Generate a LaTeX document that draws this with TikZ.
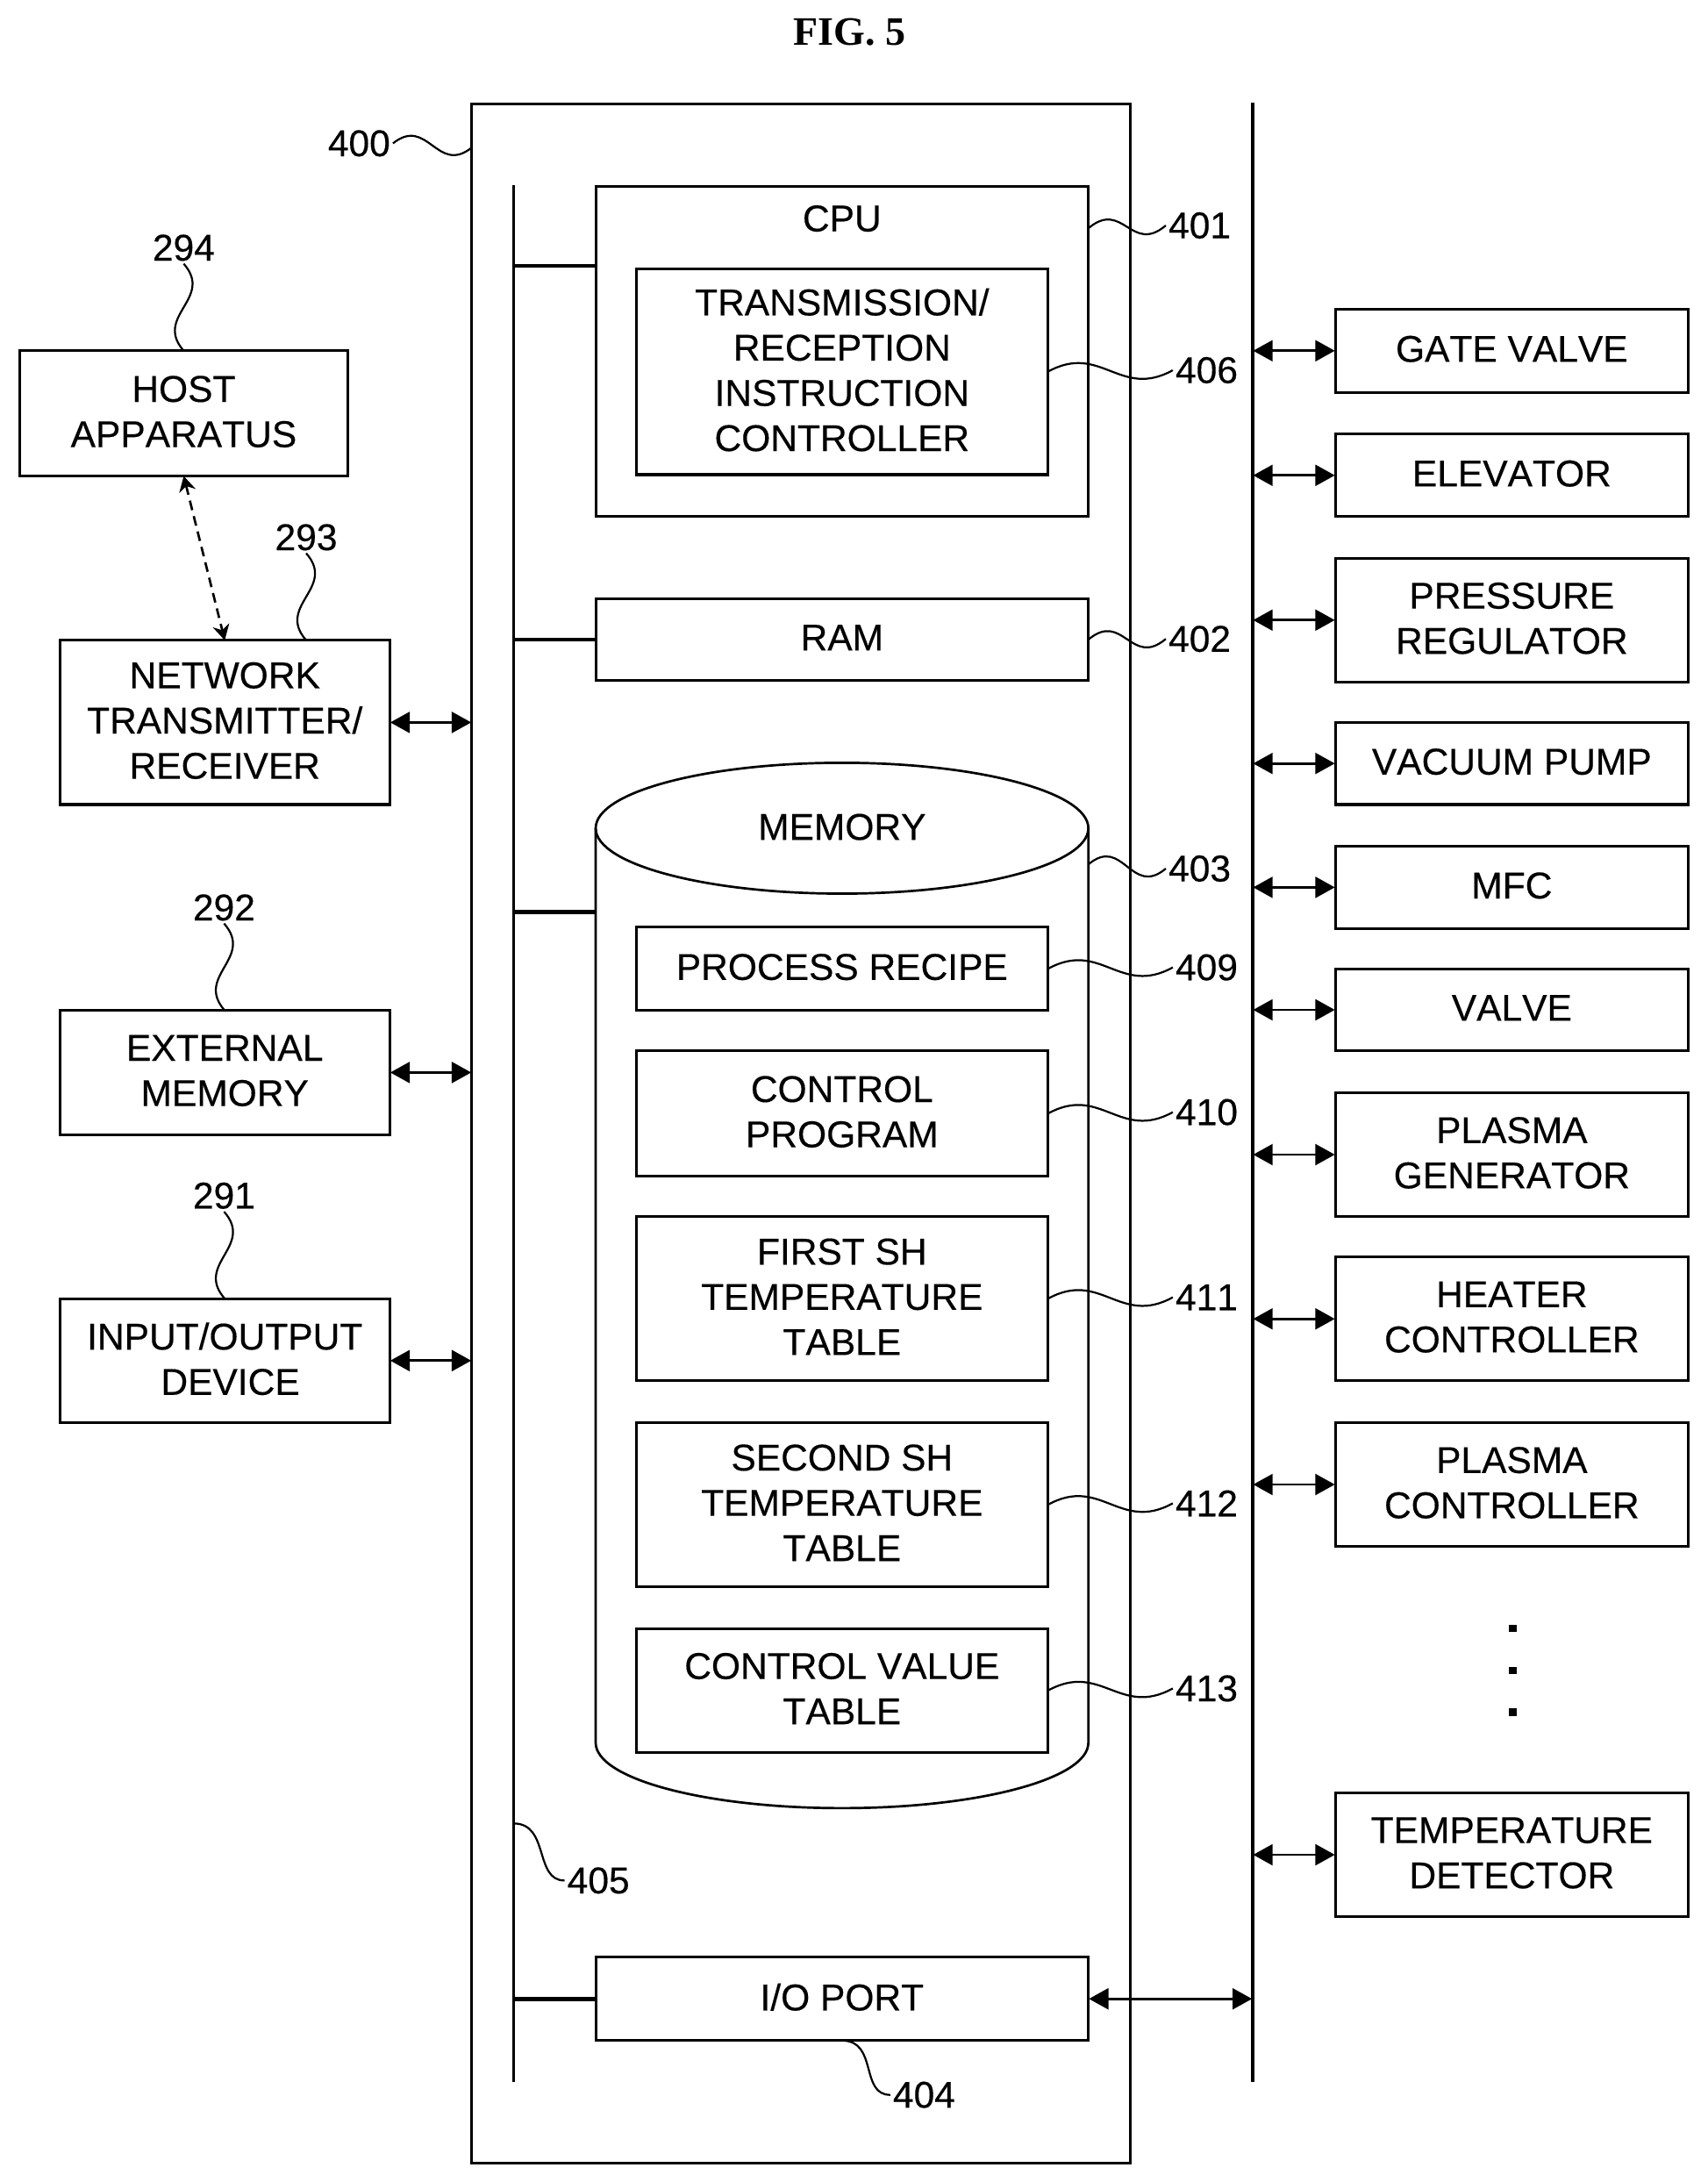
\documentclass[tikz,border=0pt]{standalone}
\usepackage{fontspec}
\setmainfont[FakeBold=0.35,Kerning=Off]{Liberation Sans}
\newfontfamily\titlefont{Liberation Serif}
\usetikzlibrary{arrows.meta,calc,shapes.geometric}
\tikzset{
  boxn/.style={draw=black,line width=0.95pt,inner sep=0pt,outer sep=0pt,align=center,font=\txtf,text depth=1.4pt},
  txtn/.style={inner sep=0pt,outer sep=0pt,align=center,font=\txtf},
  numn/.style={inner sep=1pt,outer sep=0pt,font=\txtf},
  dbl/.style={{Triangle[length=7pt,width=7.5pt]}-{Triangle[length=7pt,width=7.5pt]},line width=0.9pt,shorten <=0.2pt,shorten >=0.2pt},
  dashdbl/.style={{Stealth[length=5.5pt,width=6pt]}-{Stealth[length=5.5pt,width=6pt]},line width=0.85pt,dash pattern=on 3.5pt off 2.2pt},
  lead/.style={line width=0.7pt},
  stub/.style={line width=1.5pt},
  lbus/.style={line width=1.05pt},
  rbus/.style={line width=1.45pt},
  dotn/.style={fill=black,draw=none,minimum size=2.6pt,inner sep=0pt,outer sep=0pt},
}
\newcommand{\txtf}{\fontsize{13.4}{16.25}\selectfont}
% name, x1, y1, x2, y2, text
\newcommand{\mybox}[6]{\node[boxn,minimum width={(#4-#2)*0.5pt},minimum height={(#5-#3)*0.5pt}] (#1) at ({(#2+#4)/2},{(#3+#5)/2}) {#6};}
\begin{document}
\begin{tikzpicture}[x=0.5pt,y=-0.5pt]
\useasboundingbox (0,0) rectangle (1226.6,1567.6);
\node[inner sep=0pt,font=\titlefont\bfseries\fontsize{14.5}{16}\selectfont] (title) at (610.5,23) {FIG. 5};
% main frame and buses
\mybox{outer}{339}{75}{812}{1554}{}
\coordinate (lbt) at (369,133);
\coordinate (lbb) at (369,1496);
\coordinate (rbt) at (900,74);
\coordinate (rbb) at (900,1496);
\draw[lbus] (lbt) -- (lbb);
\draw[rbus] (rbt) -- (rbb);
% CPU
\mybox{cpu}{428}{134}{782}{371}{}
\node[txtn] (cputxt) at (605,157) {CPU};
\mybox{tr}{457}{193}{753}{341}{TRANSMISSION/\\RECEPTION\\INSTRUCTION\\CONTROLLER}
\mybox{ram}{428}{430}{782}{489}{RAM}
% memory cylinder
\node[draw=black,line width=0.85pt,ellipse,minimum width=177pt,minimum height=47pt,inner sep=0pt,outer sep=0pt,font=\txtf,text depth=1pt] (mem) at (605,595) {MEMORY};
\coordinate (mbl) at (428,1252);
\coordinate (mbr) at (782,1252);
\draw[line width=0.85pt] (mem.west) -- (mbl) .. controls (428,1278) and (507,1299) .. (605,1299) .. controls (703,1299) and (782,1278) .. (mbr) -- (mem.east);
\mybox{recipe}{457}{666}{753}{726}{PROCESS RECIPE}
\mybox{prog}{457}{755}{753}{845}{CONTROL\\PROGRAM}
\mybox{first}{457}{874}{753}{992}{FIRST SH\\TEMPERATURE\\TABLE}
\mybox{second}{457}{1022}{753}{1140}{SECOND SH\\TEMPERATURE\\TABLE}
\mybox{value}{457}{1170}{753}{1259}{CONTROL VALUE\\TABLE}
\mybox{io}{428}{1406}{782}{1466}{I/O PORT}
% left devices
\mybox{host}{14}{252}{250}{342}{HOST\\APPARATUS}
\mybox{network}{43}{460}{280}{578}{NETWORK\\TRANSMITTER/\\RECEIVER}
\mybox{external}{43}{726}{280}{815}{EXTERNAL\\MEMORY}
\mybox{iodev}{43}{933}{280}{1022}{INPUT/OUTPUT\\\hspace*{4pt}DEVICE}
% right devices
\mybox{gate}{959.5}{222}{1213}{282}{GATE VALVE}
\mybox{elev}{959.5}{312}{1213}{371}{ELEVATOR}
\mybox{press}{959.5}{401}{1213}{490}{PRESSURE\\REGULATOR}
\mybox{vac}{959.5}{519}{1213}{578}{VACUUM PUMP}
\mybox{mfc}{959.5}{608}{1213}{667}{MFC}
\mybox{valve}{959.5}{696}{1213}{755}{VALVE}
\mybox{pgen}{959.5}{785}{1213}{874}{PLASMA\\GENERATOR}
\mybox{heat}{959.5}{903}{1213}{992}{HEATER\\CONTROLLER}
\mybox{pctrl}{959.5}{1022}{1213}{1111}{PLASMA\\CONTROLLER}
\mybox{tdet}{959.5}{1288}{1213}{1377}{TEMPERATURE\\DETECTOR}
\node[dotn] (d1) at (1087,1170) {};
\node[dotn] (d2) at (1087,1200) {};
\node[dotn] (d3) at (1087,1230) {};
% bus stubs
\coordinate (cpustub) at (428,191);
\coordinate (memstub) at (428,655);
\draw[stub] (cpustub -| lbt) -- (cpustub);
\draw[stub] (ram.west -| lbt) -- (ram.west);
\draw[stub] (memstub -| lbt) -- (memstub);
\draw[stub] (io.west -| lbt) -- (io.west);
% double arrows
\foreach \n in {gate,elev,press,vac,mfc,valve,pgen,heat,pctrl,tdet}{
  \draw[dbl] (\n.west -| rbt) -- (\n.west);
}
\foreach \n in {network,external,iodev}{
  \draw[dbl] (\n.east) -- (\n.east -| outer.west);
}
\draw[dbl] (io.east) -- (io.east -| rbt);
\draw[dashdbl] (host.south) -- (network.north);
% reference numerals
\node[numn] (n400) at (258,103) {400};
\node[numn] (n294) at (132,178) {294};
\node[numn] (n293) at (220,386) {293};
\node[numn] (n292) at (161,652) {292};
\node[numn] (n291) at (161,859) {291};
\node[numn] (n401) at (862,162) {401};
\node[numn] (n406) at (867,266) {406};
\node[numn] (n402) at (862,459) {402};
\node[numn] (n403) at (862,624) {403};
\node[numn] (n409) at (867,695) {409};
\node[numn] (n410) at (867,799) {410};
\node[numn] (n411) at (867,932) {411};
\node[numn] (n412) at (867,1080) {412};
\node[numn] (n413) at (867,1213) {413};
\node[numn] (n405) at (430,1351) {405};
\node[numn] (n404) at (664,1505) {404};
% leaders
\coordinate (s400) at (339,106);
\coordinate (s293) at (220,460);
\coordinate (s401) at (782,164);
\coordinate (s403) at (782,621);
\coordinate (s405) at (369,1310);
\draw[lead] (n400.east) .. controls +(25,-20) and +(-25,20) .. (s400);
\draw[lead] (n294.south) .. controls +(22,25) and +(-22,-25) .. (host.north);
\draw[lead] (n293.south) .. controls +(22,25) and +(-22,-25) .. (s293);
\draw[lead] (n292.south) .. controls +(22,25) and +(-22,-25) .. (external.north);
\draw[lead] (n291.south) .. controls +(22,25) and +(-22,-25) .. (iodev.north);
\draw[lead] (s401) .. controls +(25,-21) and +(-25,21) .. (n401.west);
\draw[lead] (tr.east) .. controls +(38,-21) and +(-38,21) .. (n406.west);
\draw[lead] (ram.east) .. controls +(25,-21) and +(-25,21) .. (n402.west);
\draw[lead] (s403) .. controls +(25,-21) and +(-25,21) .. (n403.west);
\draw[lead] (recipe.east) .. controls +(38,-21) and +(-38,21) .. (n409.west);
\draw[lead] (prog.east) .. controls +(38,-21) and +(-38,21) .. (n410.west);
\draw[lead] (first.east) .. controls +(38,-21) and +(-38,21) .. (n411.west);
\draw[lead] (second.east) .. controls +(38,-21) and +(-38,21) .. (n412.west);
\draw[lead] (value.east) .. controls +(38,-21) and +(-38,21) .. (n413.west);
\draw[lead] (s405) .. controls +(26,0) and +(-22,0) .. (n405.west);
\draw[lead] (io.south) .. controls +(26,0) and +(-22,0) .. (n404.west);
\end{tikzpicture}
\end{document}
